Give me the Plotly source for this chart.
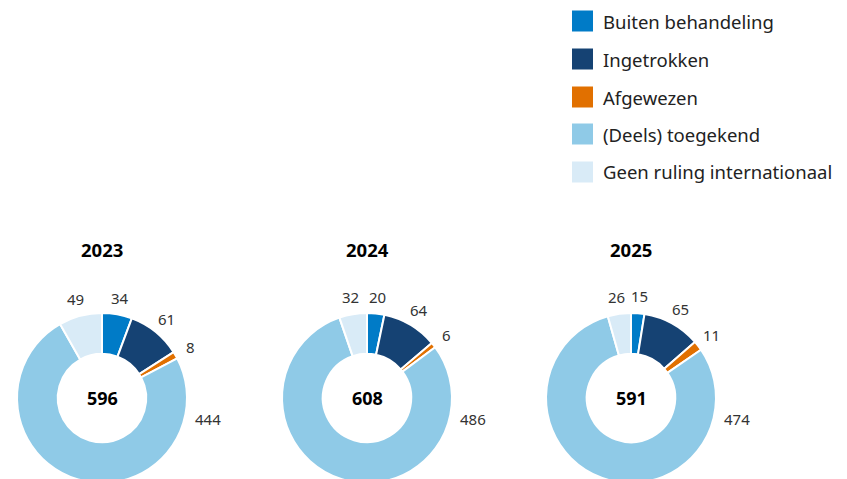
import math
import plotly.graph_objects as go

# ---- data ----
categories = ["Buiten behandeling", "Ingetrokken", "Afgewezen",
              "(Deels) toegekend", "Geen ruling internationaal"]
years = ["2023", "2024", "2025"]
values_2023 = [34, 61, 8, 444, 49]
values_2024 = [20, 64, 6, 486, 32]
values_2025 = [15, 65, 11, 474, 26]

colors = ["#007bc7", "#154273", "#e17000", "#8fcae7", "#d9ebf7"]

W, H = 847, 479
OFF = 8  # page body margin
FONT = "Noto Sans"
series = [values_2023, values_2024, values_2025]
centers_x = [102, 367, 631]
center_y = 398
R = 85
HOLE = 0.52

def px(x):
    return (x - OFF) / W

def py(y):
    return 1 - (y - OFF) / H

fig = go.Figure()
annotations = []

def ann(x, y, text, size, color, xanchor="center"):
    annotations.append(dict(x=px(x), y=py(y), xref="paper", yref="paper",
                            xanchor=xanchor, yanchor="middle", text=text,
                            showarrow=False, borderpad=0,
                            font=dict(family=FONT, size=size, color=color)))

for year, vals, cx in zip(years, series, centers_x):
    fig.add_trace(go.Pie(
        labels=categories, values=vals, sort=False, direction="clockwise",
        rotation=0, hole=HOLE, textinfo="none", hoverinfo="label+value",
        marker=dict(colors=colors, line=dict(color="white", width=2)),
        domain=dict(x=[px(cx - R), px(cx + R)], y=[py(center_y + R), py(center_y - R)]),
        showlegend=False,
    ))
    total = sum(vals)
    ann(cx, 250, f"<b>{year}</b>", 18.5, "#000")
    ann(cx, center_y, f"<b>{total}</b>", 18, "#000")
    cum = 0
    for v in vals:
        frac = v / total
        mid = (cum + v / 2) / total * 360
        cum += v
        if frac > 0.5:
            ang, rr = 101, 108
        else:
            ang, rr = mid, 102
        a = math.radians(ang)
        lx = cx + rr * math.sin(a)
        ly = center_y - rr * math.cos(a)
        ann(lx, ly, str(v), 15, "#333")

# legend (manual)
shapes = []
leg_y = [21, 59, 97, 134, 172]
for cat, col, yy in zip(categories, colors, leg_y):
    shapes.append(dict(type="rect", xref="paper", yref="paper",
                       x0=px(572), x1=px(593), y0=py(yy + 10.5), y1=py(yy - 10.5),
                       fillcolor=col, line=dict(width=0)))
    ann(602, yy, cat, 18.5, "#222", xanchor="left")

fig.update_layout(width=W, height=H, margin=dict(l=0, r=0, t=0, b=0),
                  paper_bgcolor="white", plot_bgcolor="white",
                  annotations=annotations, shapes=shapes,
                  font=dict(family=FONT))
fig.write_html("out.html")
